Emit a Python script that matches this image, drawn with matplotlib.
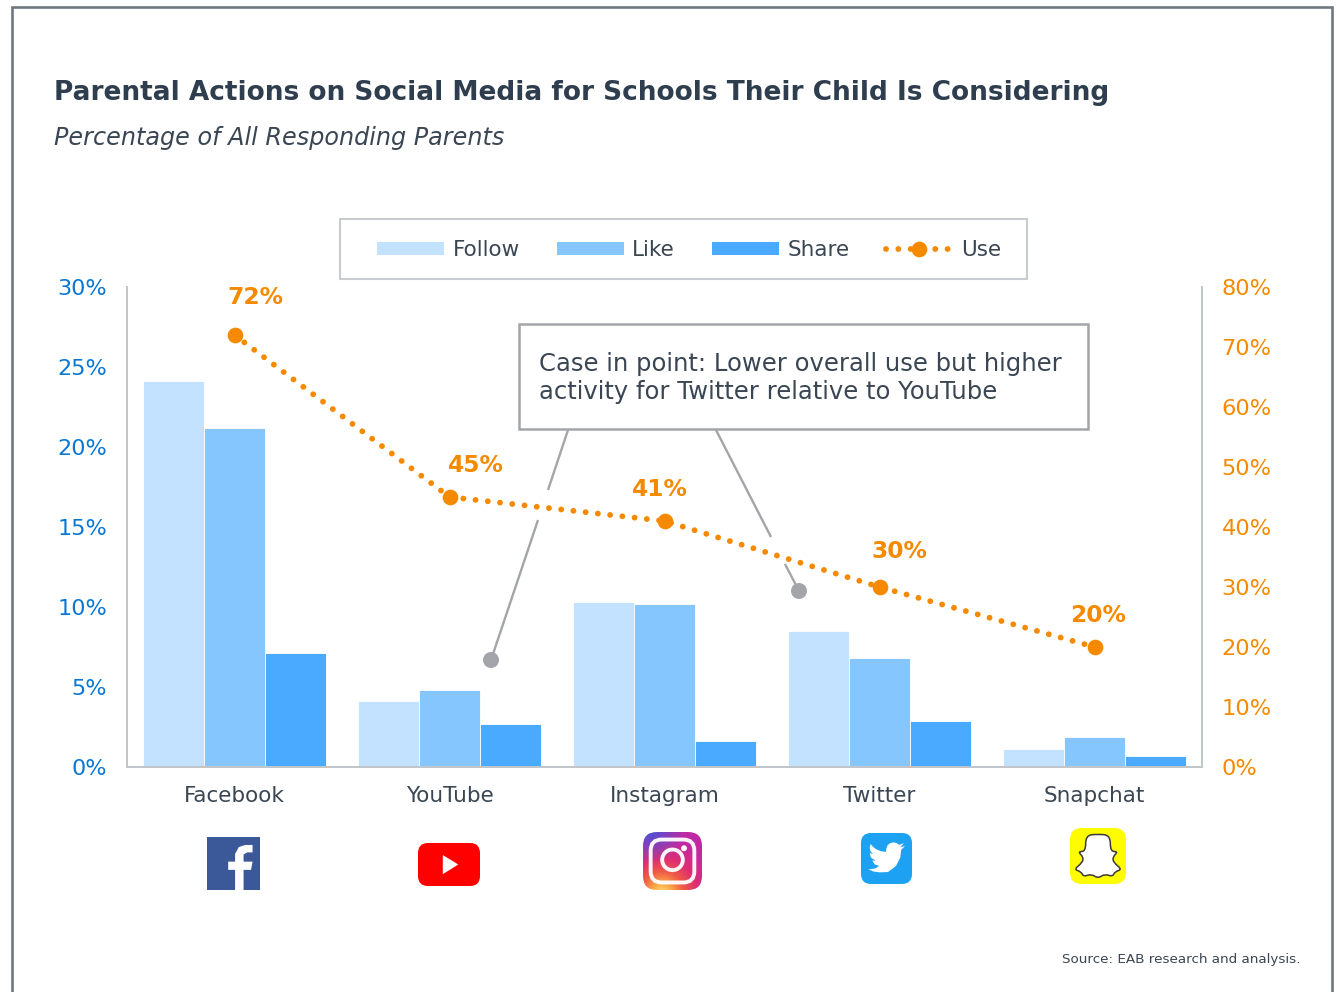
import numpy as np
import matplotlib
matplotlib.use("Agg")
import matplotlib.pyplot as plt
from matplotlib.lines import Line2D
from matplotlib.patches import Circle, FancyBboxPatch, Patch, PathPatch, Polygon, Rectangle
from matplotlib.path import Path

# Survey values
platforms = ["Facebook", "YouTube", "Instagram", "Twitter", "Snapchat"]
follow = [24.1, 4.1, 10.3, 8.5, 1.1]
like = [21.2, 4.8, 10.2, 6.8, 1.9]
share = [7.1, 2.7, 1.6, 2.9, 0.7]
use = [72, 45, 41, 30, 20]
use_label_offsets = [(21, 38), (26, 32), (-5, 31), (20, 35), (4, 31)]

left_ticks = [0, 5, 10, 15, 20, 25, 30]
right_ticks = [0, 10, 20, 30, 40, 50, 60, 70, 80]

TITLE = "Parental Actions on Social Media for Schools Their Child Is Considering"
SUBTITLE = "Percentage of All Responding Parents"
CALLOUT = "Case in point: Lower overall use but higher\nactivity for Twitter relative to YouTube"
SOURCE = "Source: EAB research and analysis."

W, H = 1337, 992
BLUE_TXT, ORANGE = "#0a78d2", "#f58a00"
INK, GREY, SPINE = "#3a4653", "#a3a5ab", "#c2c6ca"
C_FOLLOW, C_LIKE, C_SHARE = "#c2e2ff", "#85c6ff", "#4aaaff"
DOT_LW = 4.2
DOTTED = (0, (0.01, 2.1))

plt.rcParams["font.family"] = "DejaVu Sans"
fig = plt.figure(figsize=(W / 100, H / 100), dpi=100, facecolor="white")

ax = fig.add_axes([127 / W, 1 - 767 / H, 1075 / W, 480 / H])
ax2 = ax.twinx()
x = np.arange(len(platforms))
bw = 0.285
ax.bar(x - bw, follow, bw, color=C_FOLLOW, edgecolor="white", linewidth=0.6)
ax.bar(x, like, bw, color=C_LIKE, edgecolor="white", linewidth=0.6)
ax.bar(x + bw, share, bw, color=C_SHARE, edgecolor="white", linewidth=0.6)
ax.set_xlim(-0.5, 4.5)
ax.set_ylim(0, 30)
ax2.set_ylim(0, 80)
ax.set_xticks(x, platforms)
ax.set_yticks(left_ticks, [f"{t}%" for t in left_ticks])
ax2.set_yticks(right_ticks, [f"{t}%" for t in right_ticks])
ax.tick_params(axis="x", length=0, pad=13.5, labelsize=15.5, labelcolor=INK)
ax.tick_params(axis="y", length=0, pad=14.4, labelsize=16.1, labelcolor=BLUE_TXT)
ax2.tick_params(axis="y", length=0, pad=14, labelsize=16.2, labelcolor=ORANGE)
for a in (ax, ax2):
    a.spines["top"].set_visible(False)
    for side in ("left", "right", "bottom"):
        a.spines[side].set_color(SPINE)
        a.spines[side].set_linewidth(1.4)

ax2.plot(x, use, color=ORANGE, lw=DOT_LW, linestyle=DOTTED, dash_capstyle="round",
         marker="o", ms=11.3, mew=0, zorder=5)
for xi, v, (dx, dy) in zip(x, use, use_label_offsets):
    ax2.annotate(f"{v}%", (xi, v), xytext=(dx * 0.72, dy * 0.72), textcoords="offset points",
                 ha="center", va="center", fontsize=16.8, fontweight="bold", color=ORANGE)

handles = [
    Patch(facecolor=C_FOLLOW, label="Follow"),
    Patch(facecolor=C_LIKE, label="Like"),
    Patch(facecolor=C_SHARE, label="Share"),
    Line2D([], [], color=ORANGE, lw=DOT_LW, linestyle=DOTTED, dash_capstyle="round",
           marker="o", ms=11.3, mew=0, label="Use"),
]
ax2.legend(handles=handles, ncols=4, loc="center", frameon=False, fontsize=15.5,
           bbox_to_anchor=(689.5 / W, 1 - 250 / H), bbox_transform=fig.transFigure,
           handlelength=3.1, handleheight=0.55, handletextpad=0.4, columnspacing=1.71,
           numpoints=1, labelcolor=INK)

# Full-figure layer in pixel coordinates for the frame, notes and logos
ov = fig.add_axes([0, 0, 1, 1], zorder=10)
ov.patch.set_visible(False)
ov.axis("off")

# Page frame, open at the bottom
ov.plot([12, 12, 1332, 1332], [H + 5, 7, 7, H + 5], color="#6d7881", lw=1.9, solid_joinstyle="miter")

ov.text(54, 93.5, TITLE, fontsize=18.98, fontweight="bold", color="#2f3e4e", va="center")
ov.text(54, 137.5, SUBTITLE, fontsize=17.2, fontstyle="italic", color=INK, va="center")
ov.text(1301, 960, SOURCE, fontsize=9.7, color=INK, ha="right", va="center")
ov.add_patch(Rectangle((340, 219), 687, 60, fill=False, ec="#c8ccd0", lw=1.5))

# Callout with its two leaders, broken where they cross the Use line
ov.add_patch(Rectangle((519, 324), 569, 105, fc="white", ec=GREY, lw=1.8))
ov.text(539, 378, CALLOUT, fontsize=17.5, color=INK, va="center", linespacing=1.24)
for xs, ys in [((568, 548), (430, 490)), ((538, 491), (520, 660)),
               ((716, 771), (430, 537)), ((785, 799), (564, 591))]:
    ov.plot(xs, ys, color=GREY, lw=1.7, solid_capstyle="butt")
for c in [(491, 660), (799, 591)]:
    ov.add_patch(Circle(c, 8, fc=GREY, ec="none"))


def rounded(x0, y0, w, h, r, color):
    p = FancyBboxPatch((x0, y0), w, h, boxstyle=f"round,pad=0,rounding_size={r}", fc=color, ec="none")
    ov.add_patch(p)
    return p


def smooth_closed(points):
    pts = np.asarray(points, float)
    mids = (pts + np.roll(pts, -1, axis=0)) / 2
    verts = [mids[-1]]
    codes = [Path.MOVETO]
    for p, m in zip(pts, mids):
        verts += [p, m]
        codes += [Path.CURVE3, Path.CURVE3]
    return Path(verts, codes)


# Facebook
fx, fy, fw, fh = 207, 837, 53, 53
ov.add_patch(Rectangle((fx, fy), fw, fh, fc="#3b5998", ec="none"))
f_shape = [(.53, 1), (.53, .62), (.40, .62), (.40, .465), (.53, .465), (.53, .32), (.60, .19), (.72, .15),
           (.86, .15), (.86, .29), (.76, .29), (.69, .33), (.69, .465), (.86, .465), (.83, .62), (.69, .62), (.69, 1)]
ov.add_patch(Polygon([(fx + u * fw, fy + v * fh) for u, v in f_shape], fc="white", ec="none"))

# YouTube
yx, yy, yw, yh = 418, 843, 62, 43
rounded(yx, yy, yw, yh, 10, "#ff0000")
ov.add_patch(Polygon([(yx + .40 * yw, yy + .28 * yh), (yx + .65 * yw, yy + .50 * yh), (yx + .40 * yw, yy + .725 * yh)],
                     fc="white", ec="none"))

# Instagram
ix, iy, iw, ih = 643, 832, 59, 58
clip = rounded(ix, iy, iw, ih, 14, "none")
gu, gv = np.meshgrid(np.linspace(0, 1, 120), np.linspace(0, 1, 120))
gt = np.clip(np.hypot(gu - 0.32, gv - 1.05) / 1.15, 0, 1)
stops = [0, .14, .32, .52, .80, 1]
stop_rgb = np.array([[254, 218, 117], [250, 170, 70], [240, 90, 70], [222, 45, 115], [195, 42, 163], [190, 42, 165]]) / 255
grad = np.dstack([np.interp(gt, stops, stop_rgb[:, k]) for k in range(3)])
# Blue-violet bloom in the upper left corner
bloom = np.clip(1 - np.hypot(gu - 0.12, gv + 0.05) / 0.6, 0, 1)[..., None]
grad = grad * (1 - bloom) + np.array([70, 85, 215]) / 255 * bloom
im = ov.imshow(grad, extent=(ix, ix + iw, iy + ih, iy), aspect="auto", zorder=2)
im.set_clip_path(clip)
ring = FancyBboxPatch((ix + .13 * iw, iy + .13 * ih), .74 * iw, .74 * ih,
                      boxstyle="round,pad=0,rounding_size=11", fc="none", ec="white", lw=2.8, zorder=3, alpha=.95)
ov.add_patch(ring)
ov.add_patch(Circle((ix + .5 * iw, iy + .48 * ih), .175 * iw, fc="none", ec="white", lw=2.8, zorder=3, alpha=.95))
ov.add_patch(Circle((ix + .695 * iw, iy + .28 * ih), .05 * iw, fc="white", ec="none", zorder=3))

# Twitter
tx, ty, ts = 861, 833, 51
rounded(tx, ty, ts, ts, 10, "#1da1f2")
bird = [(23.95, 4.57), (21.13, 5.35), (23.29, 2.62), (20.16, 3.81), (18.8, 2.6), (16.6, 2.1), (14.2, 2.7),
        (12.5, 4.3), (11.7, 6.9), (11.78, 8.29), (8.6, 8.0), (5.2, 6.6), (3.2, 5.0), (1.64, 3.16), (0.97, 5.64),
        (1.6, 8.0), (3.16, 9.73), (0.93, 9.12), (1.9, 12.2), (4.88, 14.0), (2.67, 14.09), (4.4, 16.6), (7.27, 17.5),
        (4.6, 19.2), (1.17, 19.6), (0, 19.54), (3.5, 21.2), (7.56, 21.75), (13.0, 21.5), (18.2, 17.6), (21.0, 12.0),
        (21.55, 7.77), (21.53, 7.14), (24, 4.59)]
scale = 0.72 * ts / 24
ov.add_patch(Polygon([(tx + .14 * ts + a * scale, ty + .12 * ts + b * scale) for a, b in bird], fc="white", ec="none"))

# Snapchat
sx, sy, ss = 1070, 828, 56
rounded(sx, sy, ss, ss, 12, "#fffc00")
ghost = [(.5, .11), (.72, .13), (.72, .42), (.86, .42), (.76, .52), (.78, .62), (.93, .74), (.80, .78), (.76, .87),
         (.62, .82), (.5, .90), (.38, .82), (.24, .87), (.20, .78), (.07, .74), (.22, .62), (.24, .52), (.14, .42),
         (.28, .42), (.28, .13)]
ov.add_patch(PathPatch(smooth_closed([(sx + u * ss, sy + v * ss) for u, v in ghost]), fc="white", ec="#3a3a3a", lw=1.1))

ov.set_xlim(0, W)
ov.set_ylim(H, 0)

fig.savefig("out.png", dpi=100)
